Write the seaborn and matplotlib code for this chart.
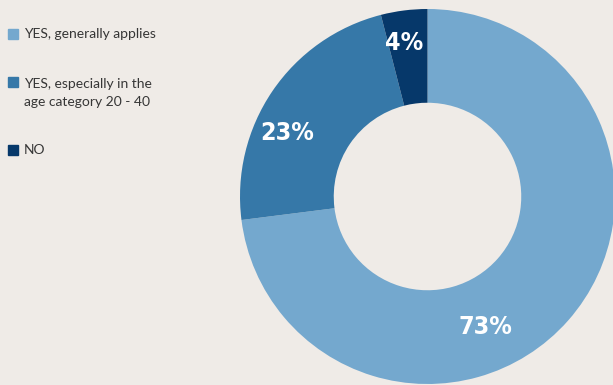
import matplotlib
matplotlib.use("Agg")
import matplotlib.pyplot as plt
from matplotlib.patches import Rectangle
import seaborn as sns
import numpy as np

categories = ["YES, generally applies", "YES, especially in the\nage category 20 - 40", "NO"]
values = [73, 23, 4]
value_labels = ["73%", "23%", "4%"]
colors = ["#74a8ce", "#3678a8", "#06386a"]
bg = "#efebe7"

sns.set_theme(style="white")
plt.rcParams["font.family"] = ["Lato", "DejaVu Sans"]

fig = plt.figure(figsize=(6.13, 3.85), dpi=100, facecolor=bg)
ax = fig.add_axes([240 / 613, 1 / 385, 375 / 613, 375 / 385])
ax.set_facecolor(bg)

wedges, _ = ax.pie(values, colors=colors, startangle=90, counterclock=False,
                   radius=1.0, wedgeprops=dict(width=0.5, linewidth=0))
ax.set_xlim(-1, 1)
ax.set_ylim(-1, 1)
ax.set_aspect("equal")
ax.axis("off")

# label placement (angle offsets from wedge mid-angle, radius)
angle_offsets = [-24.5, 10.0, 1.3]
label_r = [0.76, 0.82, 0.83]
for w, lab, off, r in zip(wedges, value_labels, angle_offsets, label_r):
    mid = np.deg2rad((w.theta1 + w.theta2) / 2 + off)
    ax.text(r * np.cos(mid), r * np.sin(mid), lab, ha="center", va="center",
            color="white", fontsize=18, fontweight="bold", fontstretch="condensed",
            family=["DejaVu Sans"])

# legend drawn manually
legend_y = [34, 82, 150]
for col, cat, y in zip(colors, categories, legend_y):
    fig.patches.append(Rectangle((8 / 613, 1 - (y + 5) / 385), 10 / 613, 10 / 385,
                                 transform=fig.transFigure, color=col, figure=fig))
    multi = "\n" in cat
    fig.text(24 / 613, 1 - (y - 4 if multi else y) / 385, cat, ha="left",
             va="top" if multi else "center",
             fontsize=10, color="#363636", linespacing=1.6,
             transform=fig.transFigure)

fig.savefig("out.png", dpi=100, facecolor=bg)
